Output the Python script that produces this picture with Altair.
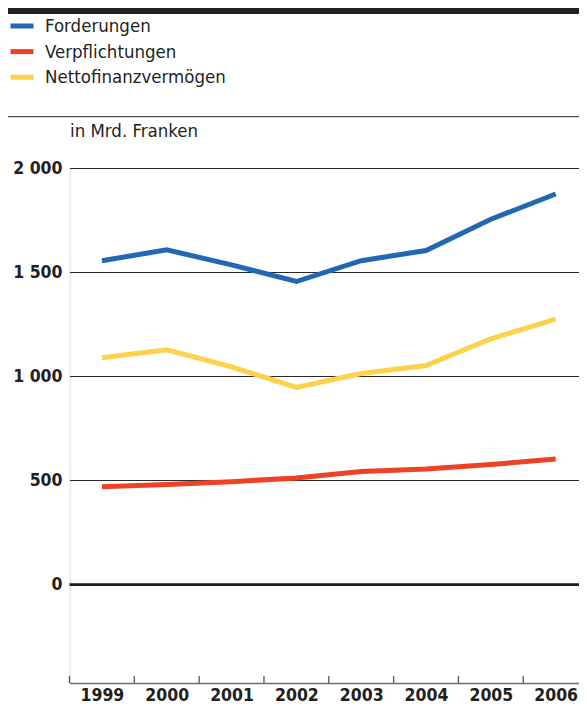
import altair as alt
import pandas as pd

years = [1999, 2000, 2001, 2002, 2003, 2004, 2005, 2006]
forderungen = [1555, 1607, 1535, 1455, 1555, 1604, 1754, 1875]
verpflichtungen = [470, 481, 494, 512, 543, 555, 576, 603]
netto = [1089, 1127, 1045, 947, 1013, 1052, 1180, 1274]

series = ["Forderungen", "Verpflichtungen", "Nettofinanzvermögen"]
colors = ["#2168b4", "#ef4123", "#fdd14a"]
tick_bounds = [1998.5, 1999.5, 2000.5, 2001.5, 2002.5, 2003.5, 2004.5, 2005.5]

FONT = "DejaVu Sans Condensed, DejaVu Sans"
TXT = "#231f20"
W, H = 509.5, 515
YMIN = -472.6
XMAX = 2006.36

rows = []
for name, vals in zip(series, [forderungen, verpflichtungen, netto]):
    for y, v in zip(years, vals):
        rows.append({"Jahr": y, "Wert": v, "Serie": name})
df = pd.DataFrame(rows)

xscale = alt.Scale(domain=[1998.5, XMAX], nice=False, zero=False)
yscale = alt.Scale(domain=[YMIN, 2000], nice=False, zero=False)

lines = alt.Chart(df).mark_line(strokeWidth=5, strokeCap="butt", strokeJoin="miter").encode(
    x=alt.X("Jahr:Q", scale=xscale,
            axis=alt.Axis(values=years, format="d", title=None, ticks=False,
                          grid=False, domain=True, domainColor="#6d6d6d", domainWidth=1.5,
                          labelFont=FONT, labelFontSize=17.5, labelFontWeight="bold",
                          labelColor=TXT, labelPadding=3, labelFlush=False)),
    y=alt.Y("Wert:Q", scale=yscale,
            axis=alt.Axis(values=[0, 500, 1000, 1500, 2000], title="in Mrd. Franken",
                          titleAngle=0, titleX=0, titleY=-38, titleAlign="left",
                          titleBaseline="middle", titleFont=FONT, titleFontSize=18.5,
                          titleFontWeight="normal", titleColor=TXT,
                          labelExpr="replace(format(datum.value, ','), ',', ' ')",
                          ticks=False, domain=False, grid=True, gridColor="#2a2a2a",
                          gridWidth=1.1, labelFont=FONT, labelFontSize=17.5,
                          labelFontWeight="bold", labelColor=TXT, labelPadding=7.5)),
    color=alt.Color("Serie:N", scale=alt.Scale(domain=series, range=colors),
                    legend=alt.Legend(title=None, orient="none", legendX=-61.5, legendY=-156,
                                      symbolType="stroke", symbolStrokeWidth=5,
                                      symbolSize=529, labelFont=FONT, labelFontSize=18.5,
                                      labelColor=TXT, labelOffset=9, rowPadding=1.6,
                                      labelLimit=0, padding=0)),
)

zero = alt.Chart(pd.DataFrame({"v": [0]})).mark_rule(color="#1a1a1a", strokeWidth=2.6).encode(
    y=alt.Y("v:Q", scale=yscale)
)

ticks = alt.Chart(pd.DataFrame({"t": tick_bounds})).mark_rule(color="#555555", strokeWidth=1.3).encode(
    x=alt.X("t:Q", scale=xscale), y=alt.value(H - 7), y2=alt.value(H)
)

top_bar = alt.Chart(pd.DataFrame({"a": [0]})).mark_rule(color="#231f20", strokeWidth=6).encode(
    x=alt.value(-61.5), x2=alt.value(W), y=alt.value(-157)
)
sep = alt.Chart(pd.DataFrame({"a": [0]})).mark_rule(color="#231f20", strokeWidth=1).encode(
    x=alt.value(-61.5), x2=alt.value(W), y=alt.value(-51.3)
)

chart = alt.layer(zero, ticks, top_bar, sep, lines).properties(
    width=W, height=H,
    autosize=alt.AutoSizeParams(type="none"),
    padding={"left": 61.5, "top": 160, "right": 0, "bottom": 22},
).configure_view(stroke=None).configure(background="white")

chart.save("out.html", embed_options={"renderer": "svg", "actions": False})
